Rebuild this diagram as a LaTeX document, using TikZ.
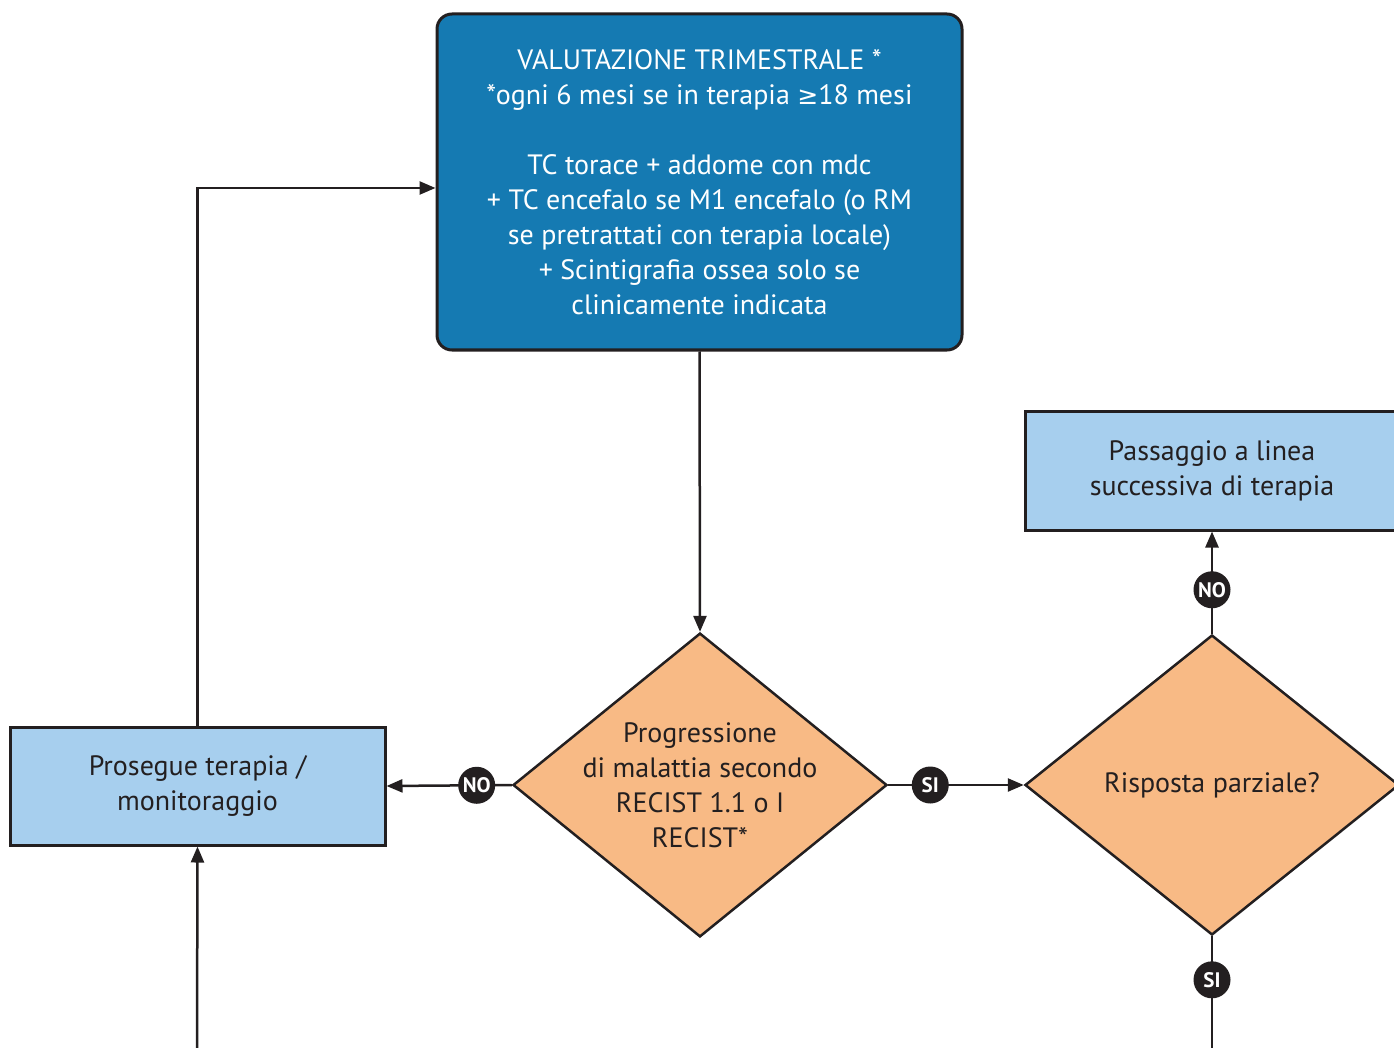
\documentclass[tikz,border=0pt]{standalone}
\usepackage{fontspec}
\setmainfont{PT Sans}
\newfontfamily\symfont{DejaVu Sans}
\usetikzlibrary{shapes.geometric,arrows.meta}
\definecolor{deepblue}{HTML}{157AB2}
\definecolor{paleblue}{HTML}{A7CFEE}
\definecolor{peach}{HTML}{F8BA85}
\definecolor{ink}{HTML}{231F20}
\tikzset{
	flowbox/.style={draw=ink, line width=3pt, fill=paleblue, align=center, inner sep=0pt, text=ink},
	choice/.style={diamond, draw=ink, line width=2.5pt, fill=peach, align=center, inner sep=-14pt, minimum width=374pt, minimum height=300pt, text=ink},
	link/.style={draw=ink, line width=2.5pt},
	arr/.style={link, -{Triangle[length=16pt,width=13pt]}},
	tag/.style={circle, fill=ink, text=white, inner sep=0pt, minimum size=37pt, font=\fontsize{21}{21}\selectfont\bfseries}
}
\begin{document}
\begin{tikzpicture}[x=1pt, y=-1pt, font=\fontsize{28}{35}\selectfont]
		\useasboundingbox (0,0) rectangle (1394,1048);
		\clip (0,0) rectangle (1394,1048);

		\node[draw=ink, line width=3pt, fill=deepblue, rounded corners=15pt, text=white, align=center, minimum width=525pt, minimum height=336pt, inner sep=0pt] (review) at (699.5,182) {VALUTAZIONE TRIMESTRALE *\\*ogni 6 mesi se in terapia {\symfont\fontsize{25}{35}\selectfont ≥}18 mesi\\ \\TC torace + addome con mdc\\+ TC encefalo se M1 encefalo (o RM\\se pretrattati con terapia locale)\\+ Scintigrafia ossea solo se\\clinicamente indicata};

		\node[choice] (progress) at (700,785) {Progressione\\di malattia secondo\\RECIST 1.1 o I\\RECIST*};
		\node[choice] (partial) at (1212,785) {Risposta parziale?};

		\node[flowbox, minimum width=375pt, minimum height=118pt] (keepon) at (197.5,786) {Prosegue terapia /\\monitoraggio};
		\node[flowbox, minimum width=374pt, minimum height=119pt] (nextline) at (1212,470.5) {Passaggio a linea\\successiva di terapia};

		\coordinate (bottomleft) at (197,1048);
		\coordinate (bottomright) at (1212,1048);

		\draw[arr] (review.south) -- (progress.north);
		\draw[arr] (progress.west) -- node[tag, pos=0.28] {NO} (keepon.east);
		\draw[arr] (progress.east) -- node[tag, pos=0.31] {SI} (partial.west);
		\draw[arr] (partial.north) -- node[tag, pos=0.43] {NO} (nextline.south);
		\draw[link] (partial.south) -- node[tag, pos=0.39] {SI} (bottomright);
		\draw[arr] (keepon.north) |- ([yshift=-6pt]review.west);
		\draw[arr] (bottomleft) -- (keepon.south);
	\end{tikzpicture}
\end{document}
